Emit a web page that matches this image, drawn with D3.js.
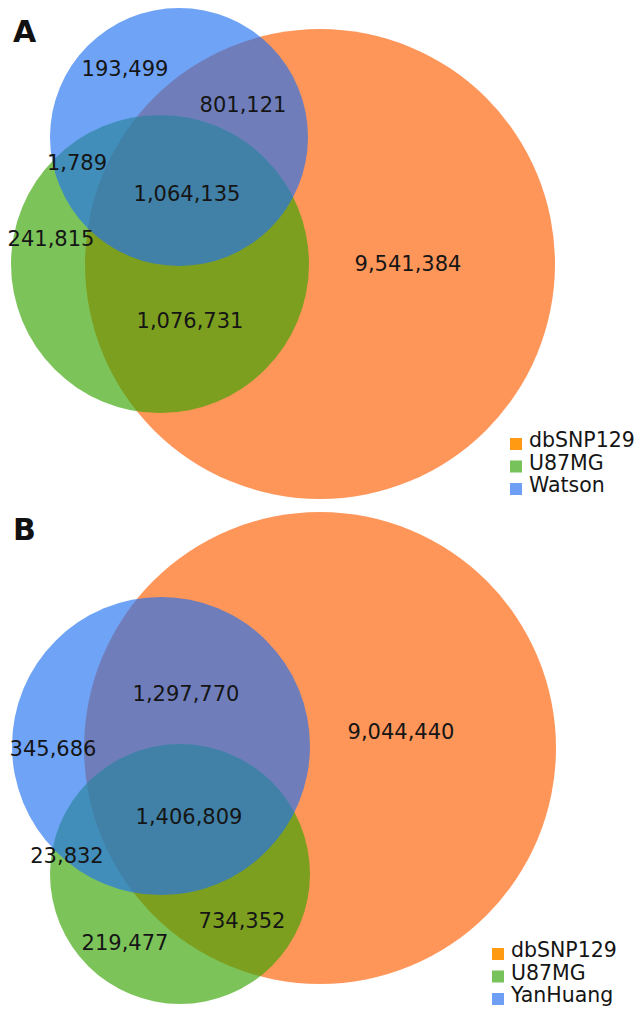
<!DOCTYPE html>
<html>
<head>
<meta charset="utf-8">
<script src="https://cdn.jsdelivr.net/npm/d3@7"></script>
<style>
  body { margin: 0; background: #fff; }
  text { font-family: 'DejaVu Sans', sans-serif; }
</style>
</head>
<body>
<svg></svg>
<script>
// data
var panelNames = ['A', 'B'];
var setsA = ['dbSNP129', 'U87MG', 'Watson'];
var setsB = ['dbSNP129', 'U87MG', 'YanHuang'];
// regions: which sets each count belongs to (1 = dbSNP129, 2 = U87MG, 3 = genome)
var regionKeys = ['1', '2', '3', '12', '13', '23', '123'];
var countsA = [9541384, 241815, 193499, 1076731, 801121, 1789, 1064135];
var countsB = [9044440, 219477, 345686, 734352, 1297770, 23832, 1406809];

// layout (pixels), kept apart from the values
var layout = {
    A: {
        circles: [[320, 264, 235], [160, 264, 149], [179, 137, 129]],
        labels: {'1': [408, 263], '2': [51, 238], '3': [125, 68], '12': [190, 320],
                 '13': [243, 104], '23': [77, 162], '123': [187, 193]},
        title: [13, 42],
        legend: [510, 447]
    },
    B: {
        circles: [[320, 748, 236], [180, 874, 130], [161, 746, 149]],
        labels: {'1': [401, 731], '2': [125, 942], '3': [53, 748], '12': [242, 920],
                 '13': [186, 693], '23': [67, 855], '123': [189, 816]},
        title: [13, 540],
        legend: [492, 957]
    }
};

var width = 638;
var height = 1009;

var circleColor = d3.scaleOrdinal().domain([0, 1, 2]).range(['#ff5e00', '#36a402', '#2272f0']);
var legendColor = d3.scaleOrdinal().domain([0, 1, 2]).range(['#ff9a12', '#77c25a', '#6f9ff5']);
var fmt = d3.format(',');

var svg = d3.select('svg')
    .attr('width', width)
    .attr('height', height);

panelNames.forEach(function(p, pi) {
    var sets = pi === 0 ? setsA : setsB;
    var counts = pi === 0 ? countsA : countsB;
    var lay = layout[p];
    var g = svg.append('g');

    g.selectAll('circle')
        .data(lay.circles)
        .enter()
        .append('circle')
          .attr('cx', d => d[0])
          .attr('cy', d => d[1])
          .attr('r', d => d[2])
          .attr('fill', (d, i) => circleColor(i))
          .attr('fill-opacity', 0.65);

    g.selectAll('text.count')
        .data(regionKeys.map((k, i) => ({key: k, value: counts[i]})))
        .enter()
        .append('text')
          .classed('count', true)
          .attr('x', d => lay.labels[d.key][0])
          .attr('y', d => lay.labels[d.key][1])
          .attr('dy', '0.36em')
          .attr('text-anchor', 'middle')
          .attr('font-size', 21)
          .attr('fill', '#151515')
          .text(d => fmt(d.value));

    g.append('text')
        .attr('x', lay.title[0])
        .attr('y', lay.title[1])
        .attr('font-size', 30)
        .attr('font-weight', 'bold')
        .attr('fill', '#111')
        .text(p);

    var leg = g.selectAll('g.legend')
        .data(sets)
        .enter()
        .append('g')
          .classed('legend', true)
          .attr('transform', (d, i) => 'translate(' + lay.legend[0] + ', ' + (lay.legend[1] + i * 22.5) + ')');

    leg.append('rect')
        .attr('x', 0)
        .attr('y', -9)
        .attr('width', 12)
        .attr('height', 12)
        .attr('fill', (d, i) => legendColor(i));

    leg.append('text')
        .attr('x', 19)
        .attr('y', 0)
        .attr('font-size', 20.5)
        .attr('fill', '#151515')
        .text(d => d);
});
</script>
</body>
</html>
